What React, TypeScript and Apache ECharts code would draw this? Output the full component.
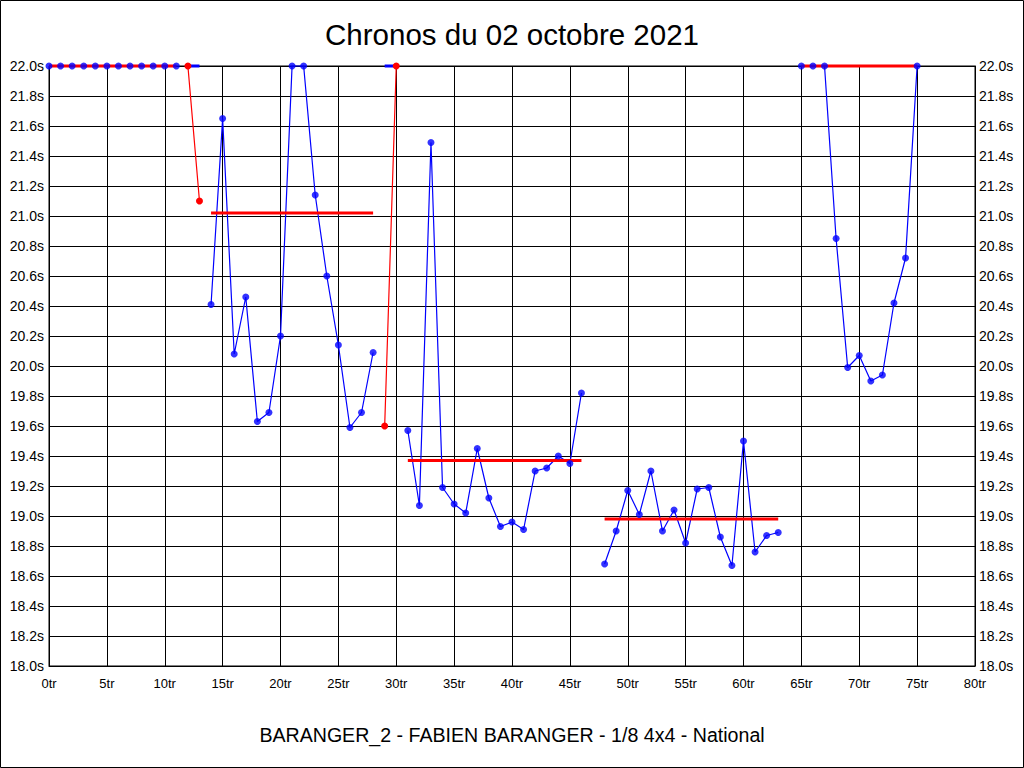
import React, { useEffect, useRef } from "react";
import * as echarts from "echarts";

const TITLE = "Chronos du 02 octobre 2021";
const SUBTITLE = "BARANGER_2 - FABIEN BARANGER - 1/8 4x4 - National";

// Lap times (s) indexed by lap number; null = no blue point
const blueTimes: (number | null)[] = [
  22.0, 22.0, 22.0, 22.0, 22.0, 22.0, 22.0, 22.0, 22.0, 22.0, 22.0, 22.0, // 0-11
  null, null, // 12-13
  20.41, 21.65, 20.08, 20.46, 19.63, 19.69, 20.2, 22.0, 22.0, 21.14, 20.6, 20.14, 19.59, 19.69, 20.09, // 14-28
  null, null, // 29-30
  19.57, 19.07, 21.49, 19.19, 19.08, 19.02, 19.45, 19.12, 18.93, 18.96, 18.91, 19.3, 19.32, 19.4, 19.35, 19.82, // 31-46
  null, // 47
  18.68, 18.9, 19.17, 19.01, 19.3, 18.9, 19.04, 18.82, 19.18, 19.19, 18.86, 18.67, 19.5, 18.76, 18.87, 18.89, // 48-63
  null, // 64
  22.0, 22.0, 22.0, 20.85, 19.99, 20.07, 19.9, 19.94, 20.42, 20.72, 22.0, // 65-75
];

// Red (excluded) laps: [lap, time]; null separates segments
const redLaps: ([number, number] | null)[] = [
  [12, 22.0], [13, 21.1], null, [29, 19.6], [30, 22.0],
];

// Short blue stubs at the top edge
const blueStubs: ([number, number] | null)[] = [
  [12, 22.0], [13, 22.0], null, [29, 22.0], [30, 22.0],
];

// Average per run: [startLap, endLap, average]
const averages: [number, number, number][] = [
  [0, 11, 22.0],
  [14, 28, 21.02],
  [31, 46, 19.37],
  [48, 63, 18.98],
  [65, 75, 22.0],
];

const X_MIN = 0;
const X_MAX = 80;
const X_STEP = 5;
const Y_MIN = 18;
const Y_MAX = 22;
const Y_STEP = 0.2;

const FONT = "'Liberation Sans', Arial, sans-serif";
const BLUE = "#0000ff";
const RED = "#ff0000";

export default function App() {
  const ref = useRef<HTMLDivElement>(null);

  useEffect(() => {
    document.body.style.margin = "0";
    if (!ref.current) return;
    const chart = echarts.init(ref.current, undefined, { renderer: "svg" });

    const blueLine = blueTimes.map((v, i) => (v === null ? [i, null] : [i, v]));
    const bluePoints = blueTimes
      .map((v, i) => (v === null ? null : [i, v]))
      .filter((p) => p !== null);
    const avgData: any[] = [];
    averages.forEach(([a, b, v], k) => {
      if (k > 0) avgData.push(null);
      avgData.push([a, v], [b, v]);
    });
    const toSeriesData = (arr: any[]) => arr.map((p) => (p === null ? [null, null] : p));

    const yLabel = (v: number) => v.toFixed(1) + "s";

    chart.setOption({
      animation: false,
      backgroundColor: "#ffffff",
      title: {
        text: TITLE,
        left: "center",
        top: 14,
        textStyle: { fontFamily: FONT, fontSize: 29.5, fontWeight: "normal", color: "#000" },
      },
      grid: {
        left: 49,
        right: 49,
        top: 66,
        bottom: 102,
        show: true,
        borderColor: "#000",
        borderWidth: 1,
      },
      xAxis: {
        type: "value",
        min: X_MIN,
        max: X_MAX,
        interval: X_STEP,
        axisLine: { show: true, lineStyle: { color: "#000", width: 1 } },
        axisTick: { show: false },
        splitLine: { show: true, lineStyle: { color: "#000", width: 1 } },
        axisLabel: {
          formatter: (v: number) => `${v}tr`,
          color: "#000",
          fontFamily: FONT,
          fontSize: 13,
          margin: 11,
        },
      },
      yAxis: [
        {
          type: "value",
          min: Y_MIN,
          max: Y_MAX,
          interval: Y_STEP,
          position: "left",
          axisLine: { show: true, lineStyle: { color: "#000", width: 1 } },
          axisTick: { show: false },
          splitLine: { show: true, lineStyle: { color: "#000", width: 1 } },
          axisLabel: { formatter: yLabel, color: "#000", fontFamily: FONT, fontSize: 14, margin: 5 },
        },
        {
          type: "value",
          min: Y_MIN,
          max: Y_MAX,
          interval: Y_STEP,
          position: "right",
          axisLine: { show: true, lineStyle: { color: "#000", width: 1 } },
          axisTick: { show: false },
          splitLine: { show: false },
          axisLabel: { formatter: yLabel, color: "#000", fontFamily: FONT, fontSize: 14, margin: 4 },
        },
      ],
      series: [
        {
          type: "line",
          name: "blueLine",
          data: blueLine,
          showSymbol: false,
          connectNulls: false,
          clip: false,
          lineStyle: { color: BLUE, width: 1.2 },
          z: 2,
        },
        {
          type: "line",
          name: "stubs",
          data: toSeriesData(blueStubs),
          showSymbol: false,
          connectNulls: false,
          clip: false,
          lineStyle: { color: BLUE, width: 3 },
          z: 2,
        },
        {
          type: "line",
          name: "avg",
          data: toSeriesData(avgData),
          showSymbol: false,
          connectNulls: false,
          clip: false,
          lineStyle: { color: RED, width: 3 },
          z: 3,
        },
        {
          type: "scatter",
          name: "bluePoints",
          data: bluePoints,
          symbol: "circle",
          symbolSize: 7,
          clip: false,
          itemStyle: { color: BLUE },
          z: 4,
        },
        {
          type: "line",
          name: "red",
          data: toSeriesData(redLaps),
          symbol: "circle",
          symbolSize: 7,
          showSymbol: true,
          connectNulls: false,
          clip: false,
          lineStyle: { color: RED, width: 1.2 },
          itemStyle: { color: RED },
          z: 5,
        },
      ],
      graphic: [
        {
          type: "rect",
          shape: { x: 0.5, y: 0.5, width: 1023, height: 767 },
          style: { fill: "none", stroke: "#000", lineWidth: 1 },
          silent: true,
          z: 100,
        },
        {
          type: "text",
          x: 512,
          y: 735,
          style: {
            text: SUBTITLE,
            fontFamily: FONT,
            fontSize: 19.6,
            fill: "#000",
            textAlign: "center",
            textVerticalAlign: "middle",
          },
          silent: true,
        },
      ],
    });

    return () => chart.dispose();
  }, []);

  return (
    <div
      ref={ref}
      style={{ position: "fixed", left: 0, top: 0, width: 1024, height: 768, background: "#fff" }}
    />
  );
}
